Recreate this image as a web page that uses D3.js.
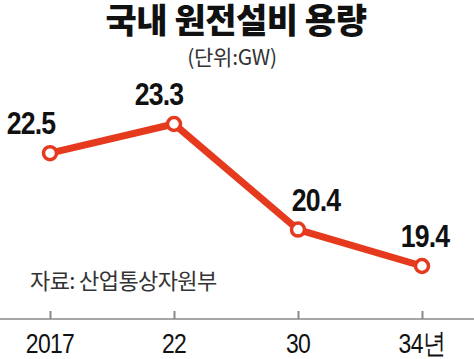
<!DOCTYPE html>
<html><head><meta charset="utf-8">
<script src="https://cdn.jsdelivr.net/npm/d3@7"></script>
<style>
html,body{margin:0;padding:0;background:#fff;}
svg{display:block;}
</style></head>
<body>
<svg id="c" width="474" height="359"></svg>
<script>
const titleText = "국내 원전설비 용량";
const unitText = "(단위:GW)";
const sourceText = "자료: 산업통상자원부";
const categories = ["2017", "22", "30", "34년"];
const values = [22.5, 23.3, 20.4, 19.4];
const valueLabels = ["22.5", "23.3", "20.4", "19.4"];
const labelDx = [-19, -15, 18, 3];

const svg = d3.select("#c");
const W = 474, H = 359;
const red = "#e63a1f";

const x = d3.scalePoint().domain(categories).range([50, 422]);
const y = d3.scaleLinear().domain([19.4, 23.3]).range([266, 124]);

svg.append("text").attr("x", 236).attr("y", 33).attr("text-anchor", "middle")
  .attr("font-family", "'Noto Sans CJK KR', sans-serif").attr("font-weight", 900)
  .attr("font-size", 34).attr("fill", "#111").attr("letter-spacing", -0.5)
  .text(titleText);
svg.append("text").attr("x", 232).attr("y", 65).attr("text-anchor", "middle")
  .attr("font-family", "'Noto Sans CJK KR', sans-serif").attr("font-weight", 400)
  .attr("font-size", 21).attr("fill", "#333").attr("letter-spacing", -0.3)
  .text(unitText);
svg.append("text").attr("x", 30).attr("y", 289)
  .attr("font-family", "'Noto Sans CJK KR', sans-serif").attr("font-weight", 400)
  .attr("font-size", 22).attr("fill", "#333").attr("letter-spacing", -0.6)
  .text(sourceText);

// axis
const axisY = 319;
const axis = d3.axisTop(x).tickSize(8).tickFormat("");
const ag = svg.append("g").attr("transform", `translate(0,${axisY})`).call(axis);
ag.select(".domain").remove();
ag.selectAll(".tick line").attr("stroke", "#888").attr("stroke-width", 2);
svg.append("line").attr("x1", 0).attr("x2", W).attr("y1", axisY).attr("y2", axisY)
  .attr("stroke", "#888").attr("stroke-width", 1.5);

svg.append("g").selectAll("text").data(categories).join("text")
  .attr("transform", d => `translate(${x(d)},353) scale(0.82,1)`)
  .attr("text-anchor", "middle")
  .attr("font-family", "'Liberation Sans', sans-serif")
  .attr("font-size", 28).attr("fill", "#111").attr("letter-spacing", -0.8)
  .text(d => d);

// line
const pts = categories.map((c, i) => ({c, v: values[i], l: valueLabels[i], dx: labelDx[i]}));
svg.append("path").datum(pts)
  .attr("d", d3.line().x(d => x(d.c)).y(d => y(d.v)))
  .attr("fill", "none").attr("stroke", red).attr("stroke-width", 7)
  .attr("stroke-linejoin", "round");
svg.append("g").selectAll("circle").data(pts).join("circle")
  .attr("cx", d => x(d.c)).attr("cy", d => y(d.v)).attr("r", 6.5)
  .attr("fill", "#fff").attr("stroke", red).attr("stroke-width", 3.5);
svg.append("g").selectAll("text").data(pts).join("text")
  .attr("transform", d => `translate(${x(d.c) + d.dx},${y(d.v) - 19}) scale(0.86,1)`)
  .attr("text-anchor", "middle")
  .attr("font-family", "'Liberation Sans', sans-serif")
  .attr("font-weight", "bold").attr("font-size", 31).attr("fill", "#111").attr("letter-spacing", -1)
  .text(d => d.l);
</script>
</body></html>
